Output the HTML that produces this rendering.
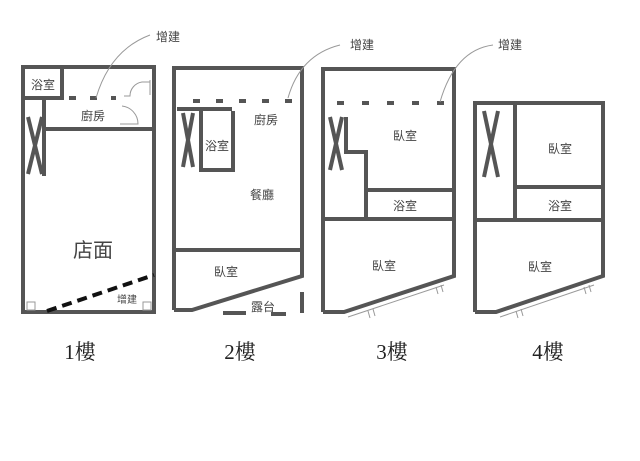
<!DOCTYPE html>
<html><head><meta charset="utf-8"><style>
html,body{margin:0;padding:0;background:#fff;width:640px;height:461px;overflow:hidden}
text{font-family:"Liberation Sans","Noto Sans CJK TC",sans-serif;fill:#444}
.s{font-family:"Liberation Serif","Noto Serif CJK SC",serif;fill:#222;font-size:21px}
</style></head><body>
<svg width="640" height="461" viewBox="0 0 640 461" xmlns="http://www.w3.org/2000/svg">
<g fill="none" stroke="#555" stroke-width="4" stroke-linecap="butt">
<!-- floor 1 -->
<rect x="23" y="67" width="131" height="245"/>
<rect x="23" y="67" width="39" height="31"/>
<line x1="44" y1="98" x2="44" y2="176"/>
<line x1="44" y1="129" x2="154" y2="129"/>
<line x1="28" y1="117" x2="42" y2="174"/>
<line x1="42" y1="117" x2="28" y2="174"/>
<line x1="69" y1="98" x2="116" y2="98" stroke-dasharray="7,14"/>
<line x1="47" y1="311" x2="154" y2="275" stroke="#111" stroke-dasharray="10,6"/>
<!-- floor 2 -->
<polyline points="174,310 174,68 302,68 302,276 192,310 174,310"/>
<line x1="174" y1="250" x2="302" y2="250"/>
<line x1="177" y1="109" x2="232" y2="109"/>
<polyline points="201,109 201,170 233,170 233,111"/>
<line x1="183" y1="113" x2="193" y2="167"/>
<line x1="193" y1="113" x2="183" y2="167"/>
<line x1="193" y1="101" x2="292" y2="101" stroke-dasharray="7,16"/>
<line x1="223" y1="313" x2="246" y2="313"/>
<line x1="271" y1="314" x2="286" y2="314"/>
<line x1="302" y1="292" x2="302" y2="313"/>
<!-- floor 3 -->
<polyline points="323,312 323,69 454,69 454,276 344,312 323,312"/>
<line x1="323" y1="219" x2="454" y2="219"/>
<line x1="366" y1="190" x2="454" y2="190"/>
<polyline points="346,117 346,152 366,152 366,219"/>
<line x1="330" y1="117" x2="342" y2="170"/>
<line x1="342" y1="117" x2="330" y2="170"/>
<line x1="337" y1="103" x2="444" y2="103" stroke-dasharray="7,18"/>
<!-- floor 4 -->
<polyline points="475,312 475,103 603,103 603,276 496,312 475,312"/>
<line x1="515" y1="103" x2="515" y2="219"/>
<line x1="515" y1="187" x2="603" y2="187"/>
<line x1="475" y1="220" x2="603" y2="220"/>
<line x1="484" y1="111" x2="498" y2="177"/>
<line x1="498" y1="111" x2="484" y2="177"/>
</g>
<g fill="none" stroke="#999" stroke-width="1">
<rect x="27" y="302" width="8" height="8"/><rect x="143" y="302" width="8" height="8"/>
<path d="M150,82 L142,82 A14,14 0 0 0 130,96 L124,96"/>
<path d="M122,106 A18,18 0 0 1 138,124 L120,124"/>
<line x1="150" y1="80" x2="150" y2="95"/>
<path d="M96,98 Q110,50 150,35"/>
<path d="M288,98 Q300,55 340,45"/>
<path d="M440,102 Q455,50 493,45"/>
<line x1="348" y1="317" x2="444" y2="285"/>
<line x1="500" y1="317" x2="594" y2="285"/>
<path d="M368,311 l2,7 M373,309 l2,7 M436,287 l2,7 M441,285 l2,7 M516,311 l2,7 M521,309 l2,7 M584,287 l2,7 M589,285 l2,7"/>
</g>
<g font-size="12" text-anchor="middle">
<text x="43" y="89">浴室</text>
<text x="93" y="120">廚房</text>
<text x="93" y="257" font-size="20">店面</text>
<text x="127" y="303" font-size="10">增建</text>
<text x="168" y="41">增建</text>
<text x="217" y="150">浴室</text>
<text x="266" y="124">廚房</text>
<text x="262" y="199">餐廳</text>
<text x="226" y="276">臥室</text>
<text x="263" y="311">露台</text>
<text x="362" y="49">增建</text>
<text x="510" y="49">增建</text>
<text x="405" y="140">臥室</text>
<text x="405" y="210">浴室</text>
<text x="384" y="270">臥室</text>
<text x="560" y="153">臥室</text>
<text x="560" y="210">浴室</text>
<text x="540" y="271">臥室</text>
</g>
<g text-anchor="middle">
<text class="s" x="80" y="359">1樓</text>
<text class="s" x="240" y="359">2樓</text>
<text class="s" x="392" y="359">3樓</text>
<text class="s" x="548" y="359">4樓</text>
</g>
</svg>
</body></html>
